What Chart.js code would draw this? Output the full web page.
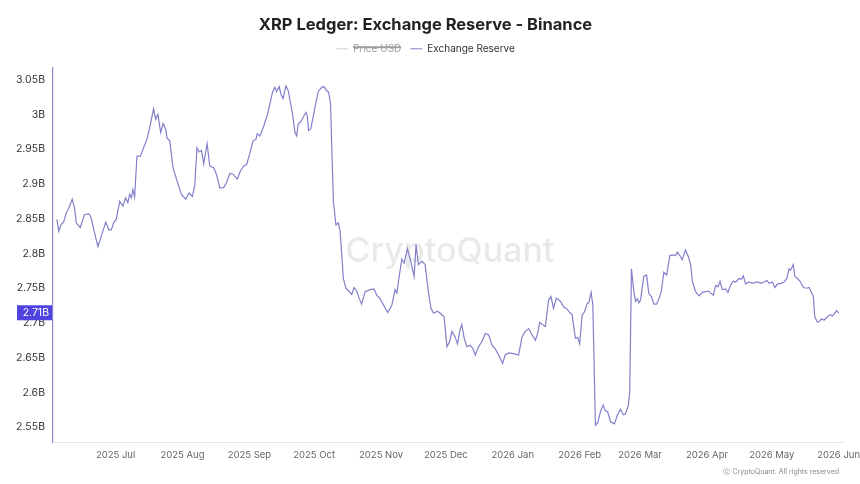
<!DOCTYPE html>
<html>
<head>
<meta charset="utf-8">
<script src="https://cdn.jsdelivr.net/npm/chart.js@4.4.1/dist/chart.umd.min.js"></script>
<style>
  html, body { margin: 0; padding: 0; background: #fff; }
</style>
</head>
<body>
<canvas id="reserveChart" width="860" height="484"></canvas>
<script>
// day offsets counted from 2025-06-01
const dayOffsets = [
  2.8,3.7,4.8,5.9,7.1,8.3,9.9,11.0,11.8,13.6,15.6,17.6,18.7,20.3,21.8,23.4,25.4,26.9,28.0,29.1,
  30.3,31.9,33.4,34.6,35.7,36.5,37.3,38.0,38.8,39.9,41.5,42.7,44.5,45.8,47.6,48.6,49.6,50.9,52.0,53.2,
  53.8,55.1,56.6,58.5,60.5,62.5,64.0,65.6,66.7,67.7,68.7,69.8,70.8,72.4,73.6,75.5,76.7,78.3,80.1,81.4,
  82.9,84.4,86.3,87.9,89.4,90.7,92.2,93.7,95.0,95.6,96.8,98.4,100.2,101.5,102.7,103.8,104.6,105.8,106.6,107.6,
  108.9,110.0,110.8,112.0,113.1,113.9,114.6,115.7,116.9,118.2,118.8,119.4,120.4,121.6,122.8,123.9,125.5,126.5,127.8,128.7,
  129.6,130.1,130.9,132.1,133.2,134.0,134.8,135.5,136.7,138.3,139.4,140.5,141.7,142.9,144.0,145.6,147.9,149.7,151.0,152.5,
  154.1,156.1,158.0,159.5,160.3,161.5,162.6,163.7,165.2,166.8,168.3,169.2,170.3,171.9,173.4,174.9,176.1,177.3,179.1,180.4,
  182.2,183.5,184.7,185.8,187.3,188.4,189.7,190.4,191.5,192.8,194.3,195.6,196.6,198.2,199.7,201.3,202.8,204.4,205.9,207.4,
  209.3,210.5,212.1,214.4,216.7,218.3,219.8,221.4,222.9,224.5,225.5,226.5,228.0,229.1,230.6,231.7,232.9,234.2,236.1,237.6,
  239.2,240.7,241.5,243.0,244.1,245.0,246.1,247.2,248.5,249.2,250.3,251.1,252.3,253.4,254.6,255.9,256.9,258.0,259.3,260.5,
  261.1,262.4,263.9,265.2,266.2,267.5,268.2,269.0,270.1,270.9,271.7,272.4,273.2,274.7,276.0,277.0,278.2,279.4,280.6,281.7,
  282.8,284.0,285.3,286.8,288.3,289.4,290.2,291.4,292.5,294.0,295.3,296.4,297.2,298.7,300.3,301.8,303.4,304.6,305.3,306.9,
  308.0,309.1,310.0,311.1,312.7,313.7,315.0,316.2,317.3,318.8,319.9,320.8,321.9,323.4,325.0,327.4,328.9,330.4,331.7,332.8,
  334.3,335.5,336.6,338.2,339.7,341.0,342.0,342.8,343.9,344.7,345.9,347.1,348.7,350.2,351.3,352.4,353.3,353.9,355.2,356.4,
  357.0,358.2,359.8,361.0,362.1,363.2,364.1,365.0
];
// exchange reserve, billions of XRP
const reserveB = [
  2.849,2.832,2.842,2.845,2.858,2.865,2.878,2.865,2.844,2.837,2.856,2.857,2.851,2.829,2.810,2.825,2.845,2.834,2.834,2.844,
  2.849,2.875,2.868,2.880,2.873,2.885,2.880,2.892,2.881,2.940,2.940,2.950,2.964,2.981,3.008,2.993,3.000,2.974,2.987,2.979,
  2.966,2.962,2.923,2.904,2.885,2.878,2.887,2.882,2.899,2.952,2.946,2.948,2.929,2.958,2.926,2.923,2.914,2.894,2.895,2.902,
  2.915,2.914,2.907,2.919,2.926,2.928,2.944,2.962,2.964,2.972,2.969,2.981,2.998,3.015,3.032,3.039,3.033,3.040,3.029,3.023,
  3.041,3.034,3.020,3.000,2.974,2.969,2.986,2.989,2.996,3.003,2.998,2.977,2.979,2.998,3.017,3.033,3.039,3.040,3.034,3.032,
  3.015,2.957,2.875,2.841,2.844,2.832,2.798,2.764,2.750,2.745,2.741,2.751,2.746,2.735,2.727,2.745,2.748,2.749,2.740,2.735,
  2.726,2.715,2.726,2.748,2.743,2.769,2.792,2.786,2.807,2.788,2.767,2.813,2.784,2.789,2.784,2.745,2.721,2.714,2.717,2.714,
  2.709,2.666,2.673,2.688,2.680,2.670,2.692,2.698,2.678,2.666,2.668,2.663,2.654,2.666,2.673,2.685,2.683,2.668,2.663,2.654,
  2.642,2.654,2.657,2.656,2.654,2.680,2.688,2.692,2.683,2.675,2.685,2.701,2.697,2.695,2.733,2.738,2.721,2.736,2.731,2.723,
  2.720,2.714,2.712,2.678,2.679,2.670,2.711,2.716,2.728,2.729,2.744,2.726,2.553,2.557,2.572,2.582,2.574,2.572,2.558,2.556,
  2.555,2.567,2.576,2.568,2.569,2.581,2.601,2.778,2.745,2.731,2.735,2.729,2.733,2.767,2.769,2.743,2.738,2.727,2.727,2.735,
  2.745,2.773,2.769,2.797,2.798,2.797,2.802,2.797,2.791,2.805,2.796,2.784,2.760,2.745,2.739,2.744,2.745,2.746,2.744,2.740,
  2.754,2.752,2.760,2.748,2.749,2.744,2.755,2.760,2.759,2.764,2.763,2.768,2.756,2.759,2.757,2.759,2.757,2.759,2.761,2.757,
  2.759,2.751,2.756,2.757,2.759,2.764,2.778,2.776,2.784,2.767,2.764,2.760,2.751,2.750,2.751,2.744,2.738,2.709,2.701,2.703,
  2.706,2.704,2.709,2.712,2.710,2.714,2.718,2.714
];
const priceUsd = []; // hidden series, not drawn in the reference

const monthDays = [30, 61, 92, 122, 153, 183, 214, 245, 273, 304, 334, 365];
const monthLabels = ['2025 Jul','2025 Aug','2025 Sep','2025 Oct','2025 Nov','2025 Dec',
                     '2026 Jan','2026 Feb','2026 Mar','2026 Apr','2026 May','2026 Jun'];
const yTicks = [2.55, 2.6, 2.65, 2.7, 2.75, 2.8, 2.85, 2.9, 2.95, 3, 3.05];

const FONT = 'Inter, "Noto Sans", sans-serif';
const LINE_COLOR = '#8280cb';

const points = dayOffsets.map((d, i) => ({ x: d, y: reserveB[i] }));

// a few px of air between legend and plot
const legendGap = {
  id: 'legendGap',
  afterInit(chart) {
    const lg = chart.legend;
    if (!lg) return;
    const fit = lg.fit;
    lg.fit = function () { fit.call(this); this.height += 4; };
  }
};

// watermark behind the line
const watermark = {
  id: 'watermark',
  beforeDatasetsDraw(chart) {
    const { ctx, chartArea: a } = chart;
    ctx.save();
    ctx.font = '500 34px ' + FONT;
    ctx.fillStyle = 'rgba(0,0,0,0.085)';
    ctx.textAlign = 'center';
    ctx.textBaseline = 'middle';
    ctx.fillText('CryptoQuant', (a.left + a.right) / 2 + 2, (a.top + a.bottom) / 2 - 3);
    ctx.restore();
  }
};

// last value badge on the y axis + copyright
const extras = {
  id: 'extras',
  afterDraw(chart) {
    const { ctx, chartArea: a } = chart;
    const last = reserveB[reserveB.length - 1];
    const y = chart.scales.y.getPixelForValue(last);
    ctx.save();
    ctx.fillStyle = '#4f44e0';
    ctx.fillRect(a.left - 36, y - 8, 35, 15);
    ctx.fillStyle = '#fff';
    ctx.font = '10.5px ' + FONT;
    ctx.textAlign = 'right';
    ctx.textBaseline = 'middle';
    ctx.fillText(last.toFixed(2) + 'B', a.left - 4, y);

    ctx.fillStyle = '#888';
    ctx.font = '7px ' + FONT;
    ctx.fillText('\u24D2 CryptoQuant. All rights reserved', a.right - 4, a.bottom + 29);
    ctx.restore();
  }
};

new Chart(document.getElementById('reserveChart'), {
  type: 'line',
  data: {
    datasets: [
      { label: 'Price USD', data: priceUsd, hidden: true, borderColor: '#cfcfcf', borderWidth: 1.2, pointRadius: 0 },
      { label: 'Exchange Reserve', data: points, borderColor: LINE_COLOR, borderWidth: 1.2,
        pointRadius: 0, tension: 0, fill: false }
    ]
  },
  options: {
    responsive: false,
    animation: false,
    layout: { padding: { left: 8, right: 17, top: 1, bottom: 17 } },
    plugins: {
      title: {
        display: true,
        text: 'XRP Ledger: Exchange Reserve - Binance',
        color: '#222',
        font: { family: FONT, size: 16.5, weight: '700' },
        padding: { top: 14, bottom: 0 }
      },
      legend: {
        display: true,
        labels: {
          usePointStyle: true,
          pointStyle: 'line',
          pointStyleWidth: 12,
          padding: 9,
          color: '#333',
          font: { family: FONT, size: 10 },
          generateLabels(chart) {
            const items = Chart.defaults.plugins.legend.labels.generateLabels(chart);
            items.forEach((it, i) => {
              it.strokeStyle = chart.data.datasets[i].borderColor;
              it.lineWidth = 1;
              if (it.hidden) it.fontColor = '#a0a0a0';
            });
            return items;
          }
        }
      },
      tooltip: { enabled: false }
    },
    scales: {
      x: {
        type: 'linear',
        min: 1,
        max: 367,
        afterBuildTicks(s) { s.ticks = monthDays.map(v => ({ value: v })); },
        afterFit(s) { s.paddingLeft = 0; s.paddingRight = 0; },
        ticks: {
          autoSkip: false,
          maxRotation: 0,
          padding: 6.5,
          color: '#666',
          font: { family: FONT, size: 9.5 },
          callback: (v, i) => monthLabels[i]
        },
        grid: { display: false, drawTicks: false },
        border: { display: true, color: '#e6e6e6', width: 1 }
      },
      y: {
        type: 'linear',
        min: 2.528,
        max: 3.067,
        afterBuildTicks(s) { s.ticks = yTicks.map(v => ({ value: v })); },
        afterFit(s) { s.width = 45; },
        ticks: {
          padding: 8,
          color: '#333',
          font: { family: FONT, size: 10.5 },
          callback: v => (+v.toFixed(2)) + 'B'
        },
        grid: { display: false, drawTicks: false },
        border: { display: true, color: '#8a88d4', width: 1.2 }
      }
    }
  },
  plugins: [legendGap, watermark, extras]
});
</script>
</body>
</html>
